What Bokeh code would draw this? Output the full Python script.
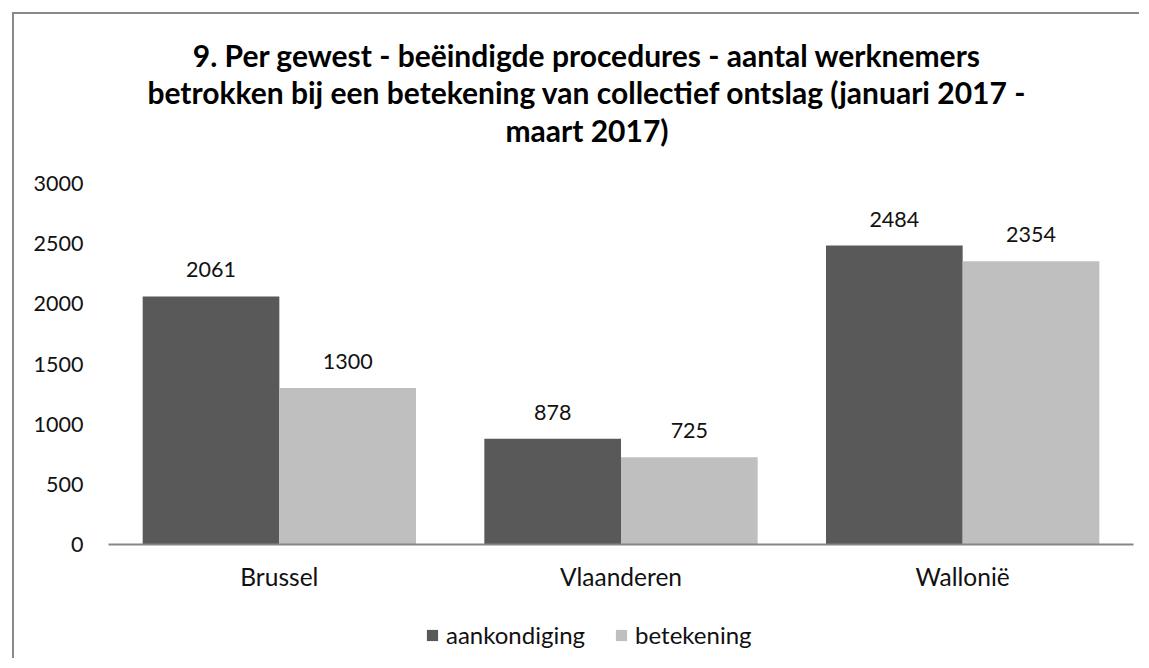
from bokeh.plotting import figure
from bokeh.models import (ColumnDataSource, Range1d, FixedTicker,
                          LabelSet, Label, Legend, LegendItem)
from bokeh.core.properties import value
from bokeh.transform import dodge
from bokeh.embed import file_html
from bokeh.resources import INLINE

regions = ["Brussel", "Vlaanderen", "Wallonië"]
aankondiging = [2061, 878, 2484]
betekening = [1300, 725, 2354]
series_names = ["aankondiging", "betekening"]
y_ticks = [0, 500, 1000, 1500, 2000, 2500, 3000]
title_lines = [
    "9. Per gewest - beëindigde procedures - aantal werknemers",
    "betrokken bij een betekening van collectief ontslag (januari 2017 -",
    "maart 2017)",
]

FONT = "Lato"
DARK = "#595959"
LIGHT = "#bfbfbf"
TXT = "#111111"

pos = list(range(len(regions)))
src = ColumnDataSource(dict(pos=pos, a=aankondiging, b=betekening,
                            a_txt=[str(v) for v in aankondiging],
                            b_txt=[str(v) for v in betekening]))

# canvas occupies picture x 15..1142, y 15..661 (whole canvas is the frame)
# categories span picture x 109..1134, values 0..3000 span picture y 545..184
C_L, C_T, C_R, C_B = 15, 15, 1142, 661
PX_PER_CAT = (1134 - 109) / 3
PX_PER_UNIT = (545 - 184) / 3000
x_range = Range1d(-0.5 - (109 - C_L) / PX_PER_CAT, 2.5 + (C_R - 1134) / PX_PER_CAT)
y_range = Range1d(-(C_B - 545) / PX_PER_UNIT, 3000 + (184 - C_T) / PX_PER_UNIT)

p = figure(width=C_R - C_L, height=C_B - C_T, x_range=x_range, y_range=y_range,
           output_backend="svg", toolbar_location=None,
           min_border_left=0, min_border_top=0, min_border_right=0,
           min_border_bottom=0)
p.styles = {"margin-left": "12px", "margin-top": "12px",
            "border-left": "2px solid #898989", "border-top": "2px solid #898989"}
p.outline_line_color = None
p.background_fill_color = "white"
p.border_fill_color = "white"
p.xgrid.grid_line_color = None
p.ygrid.grid_line_color = None

r1 = p.vbar(x=dodge("pos", -0.2), top="a", width=0.4,
            source=src, fill_color=DARK, line_color=None)
r2 = p.vbar(x=dodge("pos", 0.2), top="b", width=0.4,
            source=src, fill_color=LIGHT, line_color=None)

for ycol, tcol, off in [("a", "a_txt", -0.2), ("b", "b_txt", 0.2)]:
    p.add_layout(LabelSet(x=dodge("pos", off), y=ycol, text=tcol,
                          source=src, y_offset=19, text_align="center",
                          text_baseline="alphabetic", text_font=value(FONT),
                          text_font_size=value("21.5px"), text_color=TXT))

# axes drawn inside the frame
p.yaxis.fixed_location = -0.5
p.yaxis.bounds = (0, 3000)
p.yaxis.ticker = FixedTicker(ticks=y_ticks)
p.yaxis.axis_line_color = None
p.yaxis.major_tick_line_color = None
p.yaxis.minor_tick_line_color = None
p.yaxis.major_tick_out = 0
p.yaxis.major_tick_in = 0
p.yaxis.major_label_standoff = 25
p.yaxis.major_label_text_font = FONT
p.yaxis.major_label_text_font_size = "21.5px"
p.yaxis.major_label_text_color = TXT

p.xaxis.fixed_location = 0
p.xaxis.bounds = (-0.5, 2.5)
p.xaxis.ticker = FixedTicker(ticks=pos)
p.xaxis.major_label_overrides = {i: name for i, name in zip(pos, regions)}
p.xaxis.axis_line_color = "#868686"
p.xaxis.axis_line_width = 2
p.xaxis.major_tick_line_color = None
p.xaxis.minor_tick_line_color = None
p.xaxis.major_tick_out = 0
p.xaxis.major_tick_in = 0
p.xaxis.major_label_standoff = 17
p.xaxis.major_label_text_font = FONT
p.xaxis.major_label_text_font_size = "24.5px"
p.xaxis.major_label_text_color = TXT

# title, centered at picture x 587.5
title_x = -0.5 + (587.5 - 109) / PX_PER_CAT
for line, base in zip(title_lines, [55, 92, 130]):
    p.add_layout(Label(x=title_x, y=(545 - base) / PX_PER_UNIT, text=line,
                       text_align="center", text_baseline="alphabetic",
                       text_font=FONT, text_font_style="bold",
                       text_font_size="30px", text_color="#000000"))

legend = Legend(items=[LegendItem(label=series_names[0], renderers=[r1]),
                       LegendItem(label=series_names[1], renderers=[r2])],
                orientation="horizontal", location=(411, 11),
                glyph_width=14, glyph_height=14, label_standoff=7, spacing=29,
                padding=0, margin=0, border_line_color=None,
                background_fill_alpha=0, label_text_font=FONT,
                label_text_font_size="24px", label_text_color=TXT)
p.add_layout(legend, "center")

open("out.html", "w").write(file_html(p, INLINE))
